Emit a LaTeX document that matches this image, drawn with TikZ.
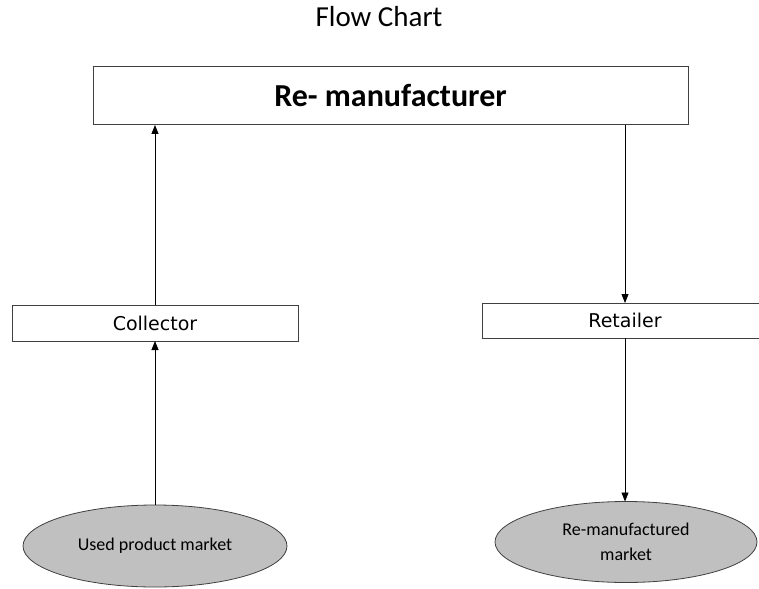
\documentclass[tikz,border=0pt]{standalone}
\usepackage{fontspec}
\setmainfont{Carlito}
\newfontfamily\boxfont{DejaVu Sans}
\usetikzlibrary{shapes.geometric,arrows.meta}
\definecolor{mktgray}{RGB}{192,192,192}
\definecolor{edgegray}{RGB}{64,64,64}
\tikzset{
  stage/.style={draw=edgegray,line width=1pt,rectangle,inner sep=0pt,outer sep=0pt},
  market/.style={draw=edgegray,line width=0.8pt,fill=mktgray,ellipse,inner sep=0pt,outer sep=0pt,
    font=\fontsize{18}{25}\selectfont,align=center},
  flow/.style={line width=0.8pt,-{Triangle[length=9pt,width=7pt]}}
}
\begin{document}
\begin{tikzpicture}[x=1pt,y=-1pt]
\useasboundingbox (0,0) rectangle (759,588);
\clip (0,0) rectangle (759,588);
%\draw[step=50,gray,very thin] (0,0) grid (759,588);
\node[anchor=base] (title) at (379,27) {\fontsize{29}{34}\selectfont Flow Chart};
\node[stage,minimum width=595pt,minimum height=58pt] (remfr) at (390.5,96)
  {\fontsize{32}{38}\selectfont\bfseries Re- manufacturer};
\node[stage,minimum width=286pt,minimum height=36pt] (collector) at (155,323)
  {\boxfont\fontsize{19}{23}\selectfont Collector};
\node[stage,minimum width=286pt,minimum height=35pt] (retailer) at (625,320.5)
  {\boxfont\fontsize{19}{23}\selectfont Retailer};
\node[market,minimum width=264pt,minimum height=82pt] (used) at (155,546) {Used product market};
\node[market,minimum width=262pt,minimum height=81pt] (remkt) at (626,542) {Re-manufactured\\market};

\draw[flow] (used.north) -- (collector.south);
\draw[flow] (collector.north) -- (collector.north |- remfr.south);
\draw[flow] (remfr.south -| retailer.north) -- (retailer.north);
\draw[flow] (retailer.south) -- (retailer.south |- remkt.north);

\end{tikzpicture}
\end{document}
